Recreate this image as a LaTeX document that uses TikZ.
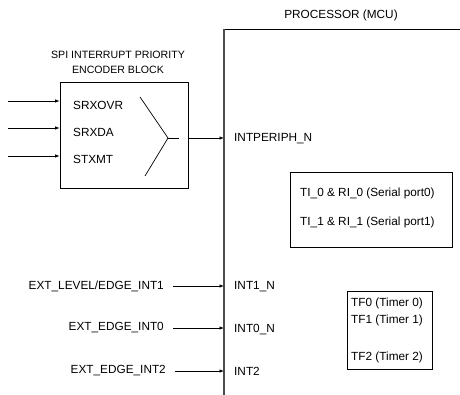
\documentclass[tikz,border=0pt]{standalone}
\usepackage{fontspec}
\setmainfont{Liberation Sans}
\usetikzlibrary{arrows.meta}
\begin{document}
\begin{tikzpicture}[x=1pt, y=-1pt,
  txt/.style={inner sep=0pt, font=\fontsize{11.8}{14}\selectfont},
  smalltxt/.style={inner sep=0pt, font=\fontsize{10.6}{12}\selectfont},
  blockbox/.style={draw, line width=0.8pt, inner sep=0pt},
  sig/.style={-{Latex[length=4.5pt, width=3.5pt]}, line width=0.7pt}]

\useasboundingbox (0,0) rectangle (460,395);

% Processor (MCU)
\coordinate (ptop) at (224,29);
\coordinate (pbot) at (224,395);
\coordinate (pright) at (460,29);
\draw[line width=0.7pt] (ptop) -- (pright);
\draw[line width=1.4pt, black!70] (pbot) -- (ptop);
\node[txt] (ptitle) at (341,15) {PROCESSOR (MCU)};

% Encoder Block
\node[smalltxt] (etitle1) at (118,55) {SPI INTERRUPT PRIORITY};
\node[smalltxt] (etitle2) at (118,70) {ENCODER BLOCK};
\node[blockbox, minimum width=128, minimum height=106] (enc) at (124,135) {};
\node[txt, anchor=base west] (srxovr) at (73,109.5) {SRXOVR};
\node[txt, anchor=base west] (srxda) at (73,136.5) {SRXDA};
\node[txt, anchor=base west] (stxmt) at (73,163.5) {STXMT};

% Encoder Inputs
\coordinate (in1) at (8,101);
\coordinate (in2) at (8,128);
\coordinate (in3) at (8,156);
\draw[sig] (in1) -- (in1 -| enc.west);
\draw[sig] (in2) -- (in2 -| enc.west);
\draw[sig] (in3) -- (in3 -| enc.west);

% Priority chevron
\coordinate (cv1) at (140,97);
\coordinate (cv2) at (168,138);
\coordinate (cv3) at (145,176);
\coordinate (cv4) at (179,138);
\draw[line width=0.7pt] (cv1) -- (cv2) -- (cv3);
\draw[line width=0.7pt] (cv2) -- (cv4);

% Encoder Output
\coordinate (eout) at (enc.east |- cv2);
\draw[sig] (eout) -- (eout -| ptop);
\node[txt, anchor=base west] (intperiph) at (234,142) {INTPERIPH\_N};

% Serial Port Box
\node[blockbox, minimum width=162, minimum height=75] (serial) at (371,209.5) {};
\node[txt, anchor=west] (ser0) at (300,193) {TI\_0 \& RI\_0 (Serial port0)};
\node[txt, anchor=west] (ser1) at (300,222) {TI\_1 \& RI\_1 (Serial port1)};

% Timer Box
\node[blockbox, minimum width=85, minimum height=78] (timer) at (389.5,330) {};
\node[txt, anchor=west] (tf0) at (351,303) {TF0 (Timer 0)};
\node[txt, anchor=west] (tf1) at (351,320) {TF1 (Timer 1)};
\node[txt, anchor=west] (tf2) at (351,357) {TF2 (Timer 2)};

% External Interrupts
\node[txt, anchor=east] (ext1) at (164,286) {EXT\_LEVEL/EDGE\_INT1};
\node[txt, anchor=east] (ext0) at (164,328) {EXT\_EDGE\_INT0};
\node[txt, anchor=east] (ext2) at (166,371) {EXT\_EDGE\_INT2};
\draw[sig] ([xshift=9pt]ext1.east) -- (ext1.east -| ptop);
\draw[sig] ([xshift=9pt]ext0.east) -- (ext0.east -| ptop);
\draw[sig] ([xshift=9pt]ext2.east) -- (ext2.east -| ptop);
\node[txt, anchor=west] (int1) at (234,287) {INT1\_N};
\node[txt, anchor=west] (int0) at (234,330) {INT0\_N};
\node[txt, anchor=west] (int2) at (234,371) {INT2};

\end{tikzpicture}
\end{document}
